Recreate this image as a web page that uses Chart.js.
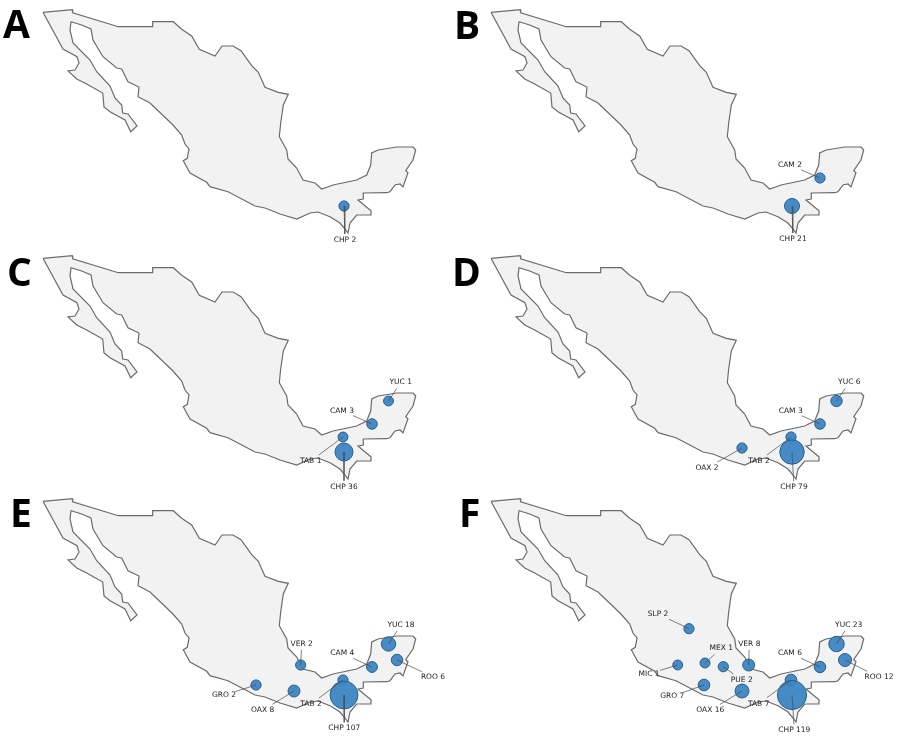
<!DOCTYPE html>
<html>
<head>
<meta charset="utf-8">
<script src="https://cdn.jsdelivr.net/npm/chart.js@4/dist/chart.umd.min.js"></script>
<style>
    html, body { margin: 0; padding: 0; background: #fff; }
    #page { position: relative; width: 900px; height: 738px; overflow: hidden; }
    .panel { position: absolute; width: 450px; height: 246px; }
    .letter { position: absolute; font: 700 39px "Open Sans", sans-serif; color: #000; line-height: 39px; }
</style>
</head>
<body>
<div id="page"></div>
<script>
    // Outline of the country, in map units
    const mapX = [43, 72.3, 72.7, 118.3, 152.3, 152.7, 173.3, 181.7, 191.7, 199.3, 215, 222, 233, 241, 251.7, 258.3, 265, 278.3, 288.3,
        283.3, 280.7, 279.3, 286.7, 288, 296.7, 303, 315, 321.7, 333, 356.7, 366.7, 370.7, 371.7, 378, 396.7, 413, 415.7, 413, 405.7, 408,
        403, 400, 395, 390, 386.7, 363.3, 363.3, 358, 371, 371, 356.7, 350, 348, 345, 340, 330, 318, 310, 296.7, 280, 265, 255, 228,
        210, 206.7, 190, 183.3, 187.3, 189, 185, 181.7, 173, 150, 138, 139, 128, 121.7, 116.7, 103, 93, 91, 81.7, 71, 70, 73, 90, 96.7,
        110, 115, 121.7, 122.7, 128, 137, 130.7, 125, 110, 104, 102.7, 86.7, 76.7, 68, 75, 79, 77, 63];
    const mapY = [12.3, 9.7, 12.7, 26.7, 26.7, 21.7, 21.7, 29.3, 36, 49.3, 56, 46, 46, 50.7, 65.7, 72.3, 87.3, 92.3, 94.3,
        105, 123, 136.7, 150, 159, 168, 180, 183, 189, 185, 180, 175, 165, 153, 150, 147, 147, 150, 160, 170.7, 172.7,
        187, 184, 185, 191.7, 192.7, 193, 199, 200, 210.7, 215, 215, 223, 233, 229, 223, 216.7, 212, 213, 219, 214, 208, 206, 191.7,
        186.7, 182.3, 173, 160.7, 158.3, 149, 144, 135, 125, 103, 96.7, 87, 81.7, 69, 68, 56.7, 40, 29, 25, 21.7, 30, 43, 60, 71.7,
        86, 98, 105, 113, 114, 126, 131.7, 120, 111.7, 107, 93, 84, 79, 71, 70, 63, 56.7, 49];

    // State locations, in map units
    const stateCodes = ["CHP", "TAB", "CAM", "YUC", "ROO", "OAX", "VER", "GRO", "PUE", "MEX", "MIC", "SLP"];
    const stateX = [344, 343, 372, 388.5, 397, 294, 300.7, 256, 275.3, 257, 229.7, 241];
    const stateY = [206, 191, 178, 155, 171, 202, 176, 196, 177.7, 174, 176, 139.7];

    // Cases per panel
    const panelNames = ["A", "B", "C", "D", "E", "F"];
    const panelStates = [
        ["CHP"],
        ["CAM", "CHP"],
        ["YUC", "CAM", "TAB", "CHP"],
        ["YUC", "CAM", "OAX", "TAB", "CHP"],
        ["YUC", "ROO", "VER", "CAM", "GRO", "OAX", "TAB", "CHP"],
        ["SLP", "YUC", "ROO", "VER", "MEX", "CAM", "MIC", "PUE", "GRO", "OAX", "TAB", "CHP"],
    ];
    const panelCases = [
        [2],
        [2, 21],
        [1, 3, 1, 36],
        [6, 3, 2, 2, 79],
        [18, 6, 2, 4, 2, 8, 2, 107],
        [2, 23, 12, 8, 1, 6, 1, 2, 7, 16, 7, 119],
    ];

    // Layout only: where each panel sits and where its labels go
    const panelLeft = [0, 448, 0, 448, 0, 448];
    const panelTop = [0, 0, 246, 246, 489, 489];
    const letterLeft = [3, 454, 7, 452, 10, 459];
    const letterTop = [3, 4, 251, 251, 492, 492];
    const labelSpots = [
        [[345, 240]],
        [[342, 165], [345, 239]],
        [[400.7, 136.3], [342, 164.7], [310.7, 215], [344, 240.7]],
        [[401.3, 136.3], [342.7, 164.7], [259, 222], [311, 215], [346, 241.3]],
        [[401, 136], [433, 188], [301.7, 154.7], [342.3, 164.3], [224, 206], [262.7, 221.3], [311, 215], [344.3, 239.3]],
        [[210, 125], [400.7, 136], [431, 188.3], [301.3, 154.7], [273.3, 159.3], [342, 164.3], [201, 184.7], [293.7, 191], [224.3, 207.3], [262.3, 221.3], [310.7, 214.7], [346.3, 241.3]],
    ];

    // Bubble area grows with the number of cases
    function bubbleRadius(cases) {
        return Math.sqrt(23 + 1.6 * cases);
    }

    // Stop the leader line at the box around its label
    function leaderEnd(from, spot, text) {
        const dx = from.x - spot[0];
        const dy = from.y - spot[1];
        const halfW = text.length * 2 + 1;
        const halfH = 6;
        const t = Math.min(halfW / Math.abs(dx || 1), halfH / Math.abs(dy || 1));
        return { x: spot[0] + dx * t, y: spot[1] + dy * t };
    }

    const stateLabels = {
        id: "stateLabels",
        afterDatasetsDraw(chart, args, opts) {
            const ctx = chart.ctx;
            const xs = chart.scales.x;
            const ys = chart.scales.y;
            ctx.save();
            ctx.font = '7.5px "DejaVu Sans"';
            ctx.fillStyle = "#222";
            ctx.textAlign = "center";
            ctx.textBaseline = "middle";
            opts.texts.forEach((text, i) => {
                ctx.fillText(text, xs.getPixelForValue(opts.spots[i][0]), ys.getPixelForValue(opts.spots[i][1]));
            });
            ctx.restore();
        },
    };

    const page = document.getElementById("page");

    panelNames.forEach((name, p) => {
        const box = document.createElement("div");
        box.className = "panel";
        box.style.left = panelLeft[p] + "px";
        box.style.top = panelTop[p] + "px";
        const canvas = document.createElement("canvas");
        canvas.width = 450;
        canvas.height = 246;
        box.appendChild(canvas);
        page.appendChild(box);

        const letter = document.createElement("div");
        letter.className = "letter";
        letter.textContent = name;
        letter.style.left = letterLeft[p] + "px";
        letter.style.top = letterTop[p] + "px";
        page.appendChild(letter);

        const points = panelStates[p].map((code) => {
            const s = stateCodes.indexOf(code);
            return { x: stateX[s], y: stateY[s] };
        });
        const texts = panelStates[p].map((code, i) => code + " " + panelCases[p][i]);

        const datasets = [
            {
                // map polygon
                data: mapX.map((x, i) => ({ x: x, y: mapY[i] })).concat([{ x: mapX[0], y: mapY[0] }]),
                showLine: true,
                fill: "shape",
                backgroundColor: "#f2f2f2",
                borderColor: "#6b6b6b",
                borderWidth: 1.2,
                pointRadius: 0,
                tension: 0,
                order: 4,
            },
            {
                data: points,
                backgroundColor: "rgba(60, 133, 194, 0.95)",
                borderColor: "#2c5f8a",
                borderWidth: 1,
                pointRadius: panelCases[p].map(bubbleRadius),
                order: 2,
            },
        ];
        // leader lines go over the bubbles
        points.forEach((pt, i) => {
            datasets.push({
                data: [pt, leaderEnd(pt, labelSpots[p][i], texts[i])],
                showLine: true,
                borderColor: "#4a4a4a",
                borderWidth: 0.7,
                pointRadius: 0,
                order: 1,
            });
        });

        new Chart(canvas.getContext("2d"), {
            type: "scatter",
            data: { datasets: datasets },
            options: {
                responsive: false,
                animation: false,
                layout: { padding: 0, autoPadding: false },
                scales: {
                    x: { type: "linear", min: 0, max: 450, display: false },
                    y: { type: "linear", min: 0, max: 246, reverse: true, display: false },
                },
                plugins: {
                    legend: { display: false },
                    tooltip: { enabled: false },
                    stateLabels: { texts: texts, spots: labelSpots[p] },
                },
            },
            plugins: [stateLabels],
        });
    });
</script>
</body>
</html>
